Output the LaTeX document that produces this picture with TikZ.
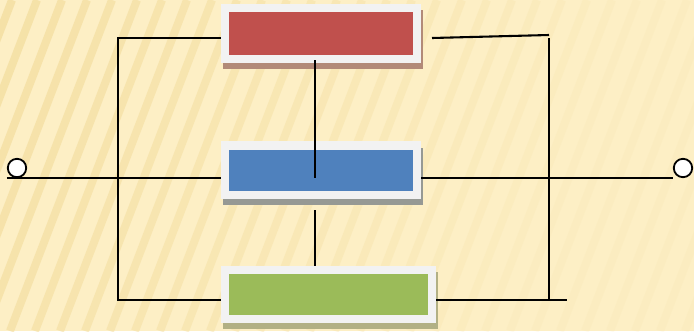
\documentclass[tikz,border=0pt]{standalone}
\usepackage{xcolor}
\usepackage{tikz}
\usetikzlibrary{calc,backgrounds}
\definecolor{paper1} {RGB} {253, 239, 197}
\definecolor{paper2} {RGB} {243, 221, 158}
\definecolor{frame1} {RGB} {242, 242, 242}
\definecolor{red1} {RGB} {192, 80, 77}
\definecolor{blue1} {RGB} {79, 129, 189}
\definecolor{green1} {RGB} {155, 187, 89}
\definecolor{redshade} {RGB} {178, 138, 120}
\definecolor{blueshade} {RGB} {150, 153, 148}
\definecolor{greenshade} {RGB} {178, 176, 132}
\pgfdeclarelayer{front}
\pgfsetlayers{background,main,front}
\tikzstyle{rbd}=[
  x=0.025cm, y=-0.025cm, line width=0.05cm
]
\tikzstyle{rbdblock}=[
  draw=frame1, line width=0.2cm, inner sep=0pt, minimum width=4.8cm, minimum height=1.225cm
]
\tikzstyle{rbdred}=[
  rbdblock, fill=red1, minimum height=1.275cm,
  preaction={fill=redshade, draw=redshade, transform canvas={shift={(0.05cm,-0.15cm)}}}
]
\tikzstyle{rbdblue}=[
  rbdblock, fill=blue1,
  preaction={fill=blueshade, draw=blueshade, transform canvas={shift={(0.05cm,-0.15cm)}}}
]
\tikzstyle{rbdgreen}=[
  rbdblock, fill=green1, minimum width=5.175cm,
  preaction={fill=greenshade, draw=greenshade, transform canvas={shift={(0.05cm,-0.15cm)}}}
]
\tikzstyle{rbdedge}=[
  line width=0.052cm, black
]
\tikzstyle{rbdterm}=[
  circle, draw, fill=white, line width=0.045cm, inner sep=0pt, minimum size=0.46cm
]

\begin{document}
\begin{tikzpicture}[rbd]
    \useasboundingbox (0,0) rectangle (694,331);
    \node (red) [rbdred] at (321, 33.5) {};
    \node (blue) [rbdblue] at ($(red) + (0, 136.5)$) {};
    \node (green) [rbdgreen] at ($(blue) + (7.5, 124.5)$) {};
    \begin{pgfonlayer}{front}
    \node (in) [rbdterm] at (17, 168) {};
    \node (out) [rbdterm] at (683, 168) {};
    \end{pgfonlayer}
    \coordinate (lt) at (118, 38);
    \coordinate (lb) at (118, 300);
    \coordinate (rt) at (549, 35);
    \coordinate (rb) at (549, 300);
    \coordinate (rt1) at (432, 38);
    \coordinate (rb1) at (567, 300);
    \coordinate (tap1) at (315, 60);
    \coordinate (tap2) at (315, 210);
    \begin{scope}[on background layer]
    \fill [paper1] (0,0) rectangle (694,331);
    \clip (0,0) rectangle (694,331);
    \foreach \i in {0,...,34} {
      \pgfmathsetmacro\op{max(0.12, 0.7 - 0.001*(\i*25 - 70))}
      \draw [paper2, line width=0.2cm, opacity=\op] (\i*25 - 140, 331) -- ++(127, -331);
    }
    \end{scope}
    \draw [rbdedge] (red.west |- lt) -- (lt) -- (lb) -- (green.west |- lb);
    \draw [rbdedge] (in.west |- in.south) -- (blue.west |- in.south);
    \draw [rbdedge] (blue.east |- out.south) -- (out.west |- out.south);
    \draw [rbdedge] (tap1) -- (tap1 |- in.south);
    \draw [rbdedge] (tap2) -- (tap2 |- green.north);
    \draw [rbdedge] (rt1) -- (rt);
    \draw [rbdedge] (rt |- rt1) -- (rb);
    \draw [rbdedge] (green.east |- rb) -- (rb1);
\end{tikzpicture}
\end{document}
